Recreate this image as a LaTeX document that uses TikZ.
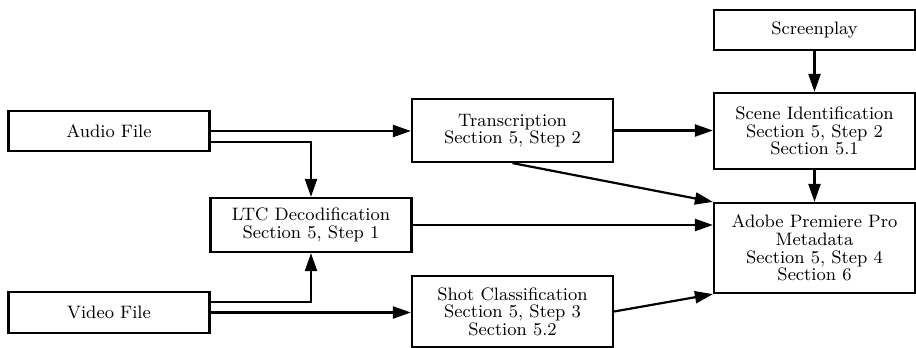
\documentclass[tikz,border=0pt]{standalone}
\usetikzlibrary{arrows.meta,calc}
\begin{document}
\begin{tikzpicture}[x=0.5pt,y=-0.5pt,
  box/.style={draw,line width=1.1pt,minimum width=100.5pt,inner sep=0pt,align=center,
    font=\fontsize{9}{8.8}\selectfont},
  conn/.style={line width=1.1pt,-{Triangle[length=9pt,width=6pt]}}]
\useasboundingbox (0,0) rectangle (916,348);
\node[box,minimum height=20pt] (audio) at (109,131) {Audio File};
\node[box,minimum height=20.5pt] (video) at (109,312.5) {Video File};
\node[box,minimum height=27pt] (ltc) at (311,225) {LTC Decodification\\Section 5, Step 1};
\node[box,minimum height=31.5pt] (trans) at (512.5,130.5) {Transcription\\Section 5, Step 2};
\node[box,minimum height=35.5pt] (shot) at (512.5,311.5) {Shot Classification\\Section 5, Step 3\\Section 5.2};
\node[box,minimum height=20pt] (screen) at (814.5,30) {Screenplay};
\node[box,minimum height=38pt] (scene) at (814.5,131) {Scene Identification\\Section 5, Step 2\\Section 5.1};
\node[box,minimum height=45pt] (adobe) at (814.5,248) {Adobe Premiere Pro\\Metadata\\Section 5, Step 4\\Section 6};
\draw[conn] (audio.east) -- (audio.east -| trans.west);
\draw[conn] ([yshift=-5.5pt]audio.east) -| (ltc.north);
\draw[conn] ([yshift=5.25pt]video.east) -| (ltc.south);
\draw[conn] (video.east) -- (video.east -| shot.west);
\draw[conn] (ltc.east) -- (ltc.east -| adobe.west);
\draw[conn] (trans.south) -- (adobe.north west);
\draw[conn] (trans.east) -- (trans.east -| scene.west);
\draw[conn] (shot.east) -- (adobe.south west);
\draw[conn] (screen.south) -- (scene.north);
\draw[conn] (scene.south) -- (adobe.north);
\end{tikzpicture}
\end{document}
